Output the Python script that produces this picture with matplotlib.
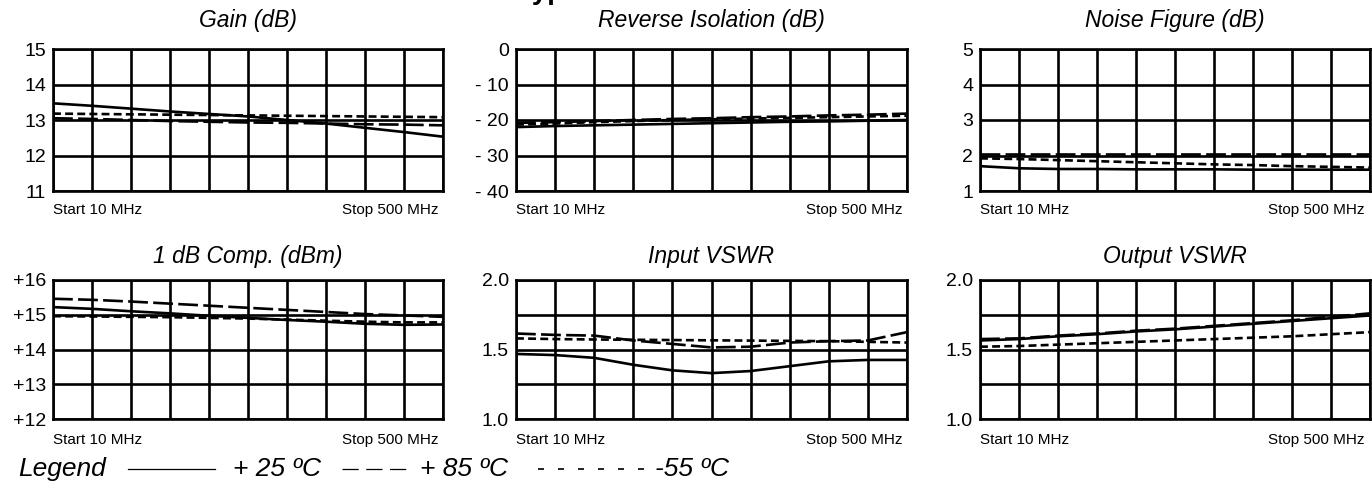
import matplotlib
matplotlib.use("Agg")
import matplotlib.pyplot as plt
from matplotlib.lines import Line2D

plt.rcParams['font.family'] = ['Liberation Sans', 'DejaVu Sans']

W, H = 1372, 484

# frequency points (MHz), one per grid column
freq = [10, 59, 108, 157, 206, 255, 304, 353, 402, 451, 500]

# Gain (dB)
gain_25 = [13.47, 13.40, 13.32, 13.24, 13.17, 13.10, 13.00, 12.90, 12.78, 12.66, 12.53]
gain_85 = [13.05, 13.03, 13.00, 12.97, 12.95, 12.93, 12.92, 12.90, 12.88, 12.87, 12.85]
gain_m55 = [13.18, 13.17, 13.16, 13.15, 13.14, 13.13, 13.12, 13.11, 13.10, 13.09, 13.08]

# Reverse isolation (dB)
iso_25 = [-22.0, -21.7, -21.5, -21.3, -21.1, -20.9, -20.7, -20.5, -20.4, -20.2, -20.0]
iso_85 = [-20.8, -20.6, -20.3, -20.0, -19.7, -19.5, -19.2, -19.0, -18.7, -18.5, -18.2]
iso_m55 = [-21.3, -21.0, -20.6, -20.3, -20.0, -19.8, -19.6, -19.4, -19.2, -19.0, -18.8]

# Noise figure (dB)
nf_25 = [1.70, 1.64, 1.62, 1.62, 1.61, 1.61, 1.61, 1.60, 1.60, 1.60, 1.60]
nf_85 = [2.04, 2.04, 2.04, 2.04, 2.04, 2.04, 2.04, 2.04, 2.04, 2.04, 2.04]
nf_m55 = [1.92, 1.90, 1.87, 1.84, 1.81, 1.78, 1.75, 1.73, 1.70, 1.68, 1.66]

# 1 dB compression (dBm)
p1_25 = [15.22, 15.17, 15.10, 15.04, 14.97, 14.91, 14.85, 14.80, 14.74, 14.71, 14.72]
p1_85 = [15.46, 15.43, 15.38, 15.32, 15.26, 15.20, 15.14, 15.08, 15.02, 14.98, 14.94]
p1_m55 = [14.96, 14.95, 14.94, 14.93, 14.91, 14.89, 14.86, 14.83, 14.80, 14.78, 14.78]

# Input VSWR
vin_25 = [1.468, 1.46, 1.44, 1.39, 1.35, 1.33, 1.345, 1.38, 1.415, 1.425, 1.425]
vin_85 = [1.615, 1.605, 1.60, 1.565, 1.54, 1.515, 1.52, 1.55, 1.56, 1.565, 1.625]
vin_m55 = [1.58, 1.575, 1.572, 1.57, 1.568, 1.566, 1.564, 1.562, 1.56, 1.555, 1.55]

# Output VSWR
vout_25 = [1.565, 1.575, 1.595, 1.61, 1.63, 1.645, 1.665, 1.685, 1.705, 1.725, 1.745]
vout_85 = [1.575, 1.58, 1.60, 1.615, 1.635, 1.65, 1.67, 1.69, 1.71, 1.735, 1.76]
vout_m55 = [1.52, 1.525, 1.535, 1.545, 1.555, 1.565, 1.575, 1.585, 1.595, 1.61, 1.625]

panels = [
    ("Gain (dB)", [gain_25, gain_85, gain_m55], [11, 12, 13, 14, 15],
     ["11", "12", "13", "14", "15"]),
    ("Reverse Isolation (dB)", [iso_25, iso_85, iso_m55], [-40, -30, -20, -10, 0],
     ["- 40", "- 30", "- 20", "- 10", "0"]),
    ("Noise Figure (dB)", [nf_25, nf_85, nf_m55], [1, 2, 3, 4, 5],
     ["1", "2", "3", "4", "5"]),
    ("1 dB Comp. (dBm)", [p1_25, p1_85, p1_m55], [12, 13, 14, 15, 16],
     ["+12", "+13", "+14", "+15", "+16"]),
    ("Input VSWR", [vin_25, vin_85, vin_m55], [1.0, 1.25, 1.5, 1.75, 2.0],
     ["1.0", "", "1.5", "", "2.0"]),
    ("Output VSWR", [vout_25, vout_85, vout_m55], [1.0, 1.25, 1.5, 1.75, 2.0],
     ["1.0", "", "1.5", "", "2.0"]),
]

cols = [(53, 443), (516, 907), (980, 1370)]
rows = [(49, 191), (280, 419)]
title_y = [20, 257]
start_y = [210, 440]

styles = [dict(ls='-'), dict(ls=(0, (7.5, 2.0))), dict(ls=(0, (3.0, 1.6)))]

fig = plt.figure(figsize=(W / 100, H / 100), dpi=100)

for i, (title, series, yt, ylab) in enumerate(panels):
    r, c = divmod(i, 3)
    x0, x1 = cols[c]
    y0, y1 = rows[r]
    ax = fig.add_axes([x0 / W, 1 - y1 / H, (x1 - x0) / W, (y1 - y0) / H])
    for s, st in zip(series, styles):
        ax.plot(freq, s, color='black', lw=1.9, solid_capstyle='butt', **st)
    ax.set_xlim(10, 500)
    ax.set_ylim(yt[0], yt[-1])
    ax.set_xticks(freq)
    ax.set_xticklabels([])
    ax.set_yticks(yt)
    ax.set_yticklabels(ylab, fontsize=14)
    ax.tick_params(length=0, pad=5)
    ax.grid(True, color='black', lw=1.9)
    ax.set_axisbelow(True)
    for sp in ax.spines.values():
        sp.set_linewidth(1.9)
    fig.text((x0 + x1) / 2 / W, 1 - title_y[r] / H, title, ha='center', va='center',
             fontsize=16.5, style='italic')
    fig.text(x0 / W, 1 - start_y[r] / H, "Start 10 MHz", ha='left', va='center', fontsize=11)
    fig.text((x1 - 5) / W, 1 - start_y[r] / H, "Stop 500 MHz", ha='right', va='center', fontsize=11)

# cut-off heading at the very top (only descenders show)
fig.text(0.5, 1 + 1 / H, "Typical Performance Data", ha='center', va='baseline',
         fontsize=20, fontweight='bold')

# legend row
ly = 1 - 476 / H
lfs = 19
fig.text(18 / W, ly, "Legend", ha='left', va='baseline', fontsize=lfs, style='italic')
fig.add_artist(Line2D([128 / W, 215 / W], [1 - 469 / H] * 2, color='black', lw=0.9))
fig.text(233 / W, ly, "+ 25 ºC", ha='left', va='baseline', fontsize=lfs, style='italic')
fig.add_artist(Line2D([342 / W, 413 / W], [1 - 469 / H] * 2, color='black', lw=0.9,
                      ls=(0, (13, 6))))
fig.text(420 / W, ly, "+ 85 ºC", ha='left', va='baseline', fontsize=lfs, style='italic')
fig.add_artist(Line2D([538 / W, 645 / W], [1 - 469 / H] * 2, color='black', lw=1.2,
                      ls=(0, (3.6, 8.4))))
fig.text(655 / W, ly, "-55 ºC", ha='left', va='baseline', fontsize=lfs, style='italic')

fig.savefig("out.png", dpi=100)
